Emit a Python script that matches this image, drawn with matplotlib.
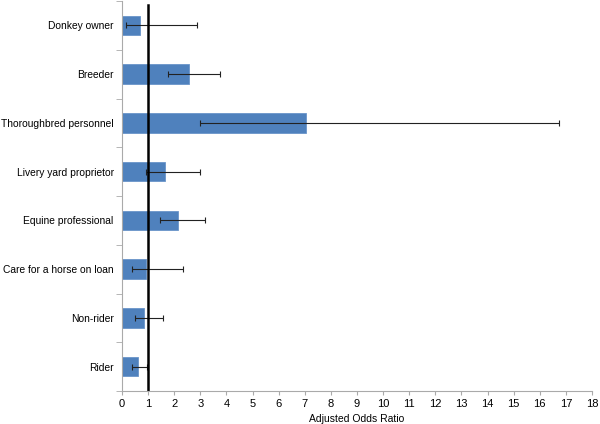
import numpy as np
import matplotlib
matplotlib.use("Agg")
import matplotlib.pyplot as plt

plt.rcParams['font.family'] = ['Liberation Sans', 'DejaVu Sans']

categories = ["Donkey owner", "Breeder", "Thoroughbred personnel",
              "Livery yard proprietor", "Equine professional",
              "Care for a horse on loan", "Non-rider", "Rider"]
odds = [0.68, 2.57, 7.06, 1.65, 2.14, 0.90, 0.84, 0.60]
ci_low = [0.15, 1.78, 2.99, 0.93, 1.46, 0.39, 0.50, 0.39]
ci_high = [2.87, 3.75, 16.75, 2.99, 3.18, 2.33, 1.56, 0.97]

odds = np.array(odds)
err = np.vstack([odds - np.array(ci_low), np.array(ci_high) - odds])
ypos = np.arange(len(categories))[::-1]

fig = plt.figure(figsize=(6, 4.24), dpi=100)
ax = fig.add_axes([122/600, 33/424, 470/600, 390/424])

ax.barh(ypos, odds, height=0.4, color='#4F81BD', edgecolor='#6A95C9', linewidth=0.6)
ax.errorbar(odds, ypos, xerr=err, fmt='none', ecolor='#222222',
            elinewidth=0.8, capsize=2.5, capthick=0.8)
ax.axvline(1, ymin=0, ymax=0.99, color='black', linewidth=1.8)

ax.set_xlim(0, 18)
ax.set_ylim(-0.5, len(categories) - 0.5)
ax.set_xticks(range(0, 19))
ax.set_yticks(ypos)
ax.set_yticklabels(categories)
ax.set_yticks(np.arange(-0.5, len(categories)), minor=True)
ax.tick_params(axis='y', which='major', length=0, pad=6, labelsize=7.4)
ax.tick_params(axis='y', which='minor', length=4, color='#aaaaaa', direction='out')
ax.tick_params(axis='x', length=3, color='#aaaaaa', labelsize=8, pad=3)
ax.set_xlabel("Adjusted Odds Ratio", fontsize=7.5, labelpad=3)

for s in ['top', 'right']:
    ax.spines[s].set_visible(False)
for s in ['left', 'bottom']:
    ax.spines[s].set_color('#aaaaaa')
    ax.spines[s].set_linewidth(0.8)

fig.savefig("out.png", dpi=100)
